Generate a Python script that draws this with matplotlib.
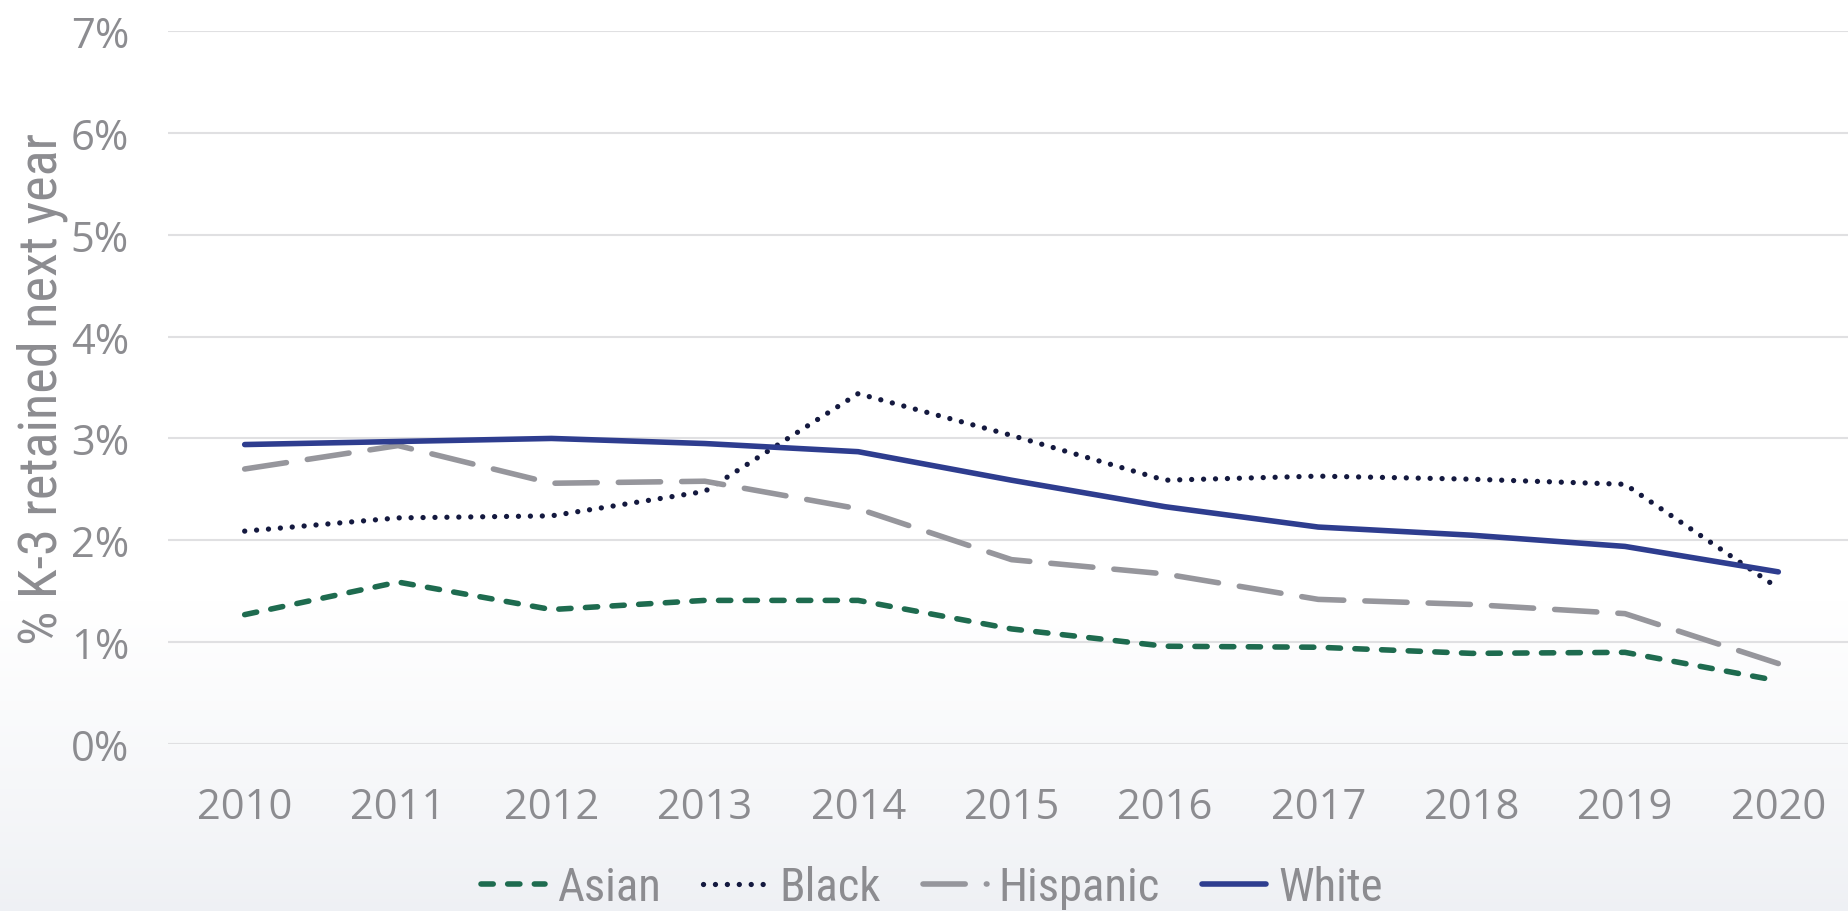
import matplotlib
matplotlib.use("Agg")
import matplotlib.pyplot as plt
import numpy as np
from matplotlib import font_manager
from matplotlib.colors import LinearSegmentedColormap

years = [2010, 2011, 2012, 2013, 2014, 2015, 2016, 2017, 2018, 2019, 2020]
asian = [1.27, 1.59, 1.32, 1.41, 1.41, 1.13, 0.96, 0.95, 0.89, 0.90, 0.62]
black = [2.09, 2.22, 2.24, 2.48, 3.44, 3.03, 2.59, 2.63, 2.60, 2.55, 1.53]
hispanic = [2.70, 2.93, 2.56, 2.58, 2.31, 1.81, 1.67, 1.42, 1.37, 1.28, 0.79]
white = [2.94, 2.97, 3.00, 2.95, 2.87, 2.59, 2.33, 2.13, 2.05, 1.94, 1.69]
yticks = [0, 1, 2, 3, 4, 5, 6, 7]

grey_txt = '#8c8c90'

# pick a narrow font for the axis title and legend if one is installed
installed = {f.name for f in font_manager.fontManager.ttflist}
narrow = 'Roboto'
for name in ['Liberation Sans Narrow', 'Roboto Condensed', 'Open Sans Condensed',
             'DejaVu Sans Condensed', 'Roboto']:
    if name in installed:
        narrow = name
        break

fig = plt.figure(figsize=(18.49, 9.12), dpi=100)

# background gradient: white on top, light grey towards the bottom
bg = fig.add_axes([0, 0, 1, 1], zorder=-10)
t = np.linspace(0, 1, 300)
grad = np.clip(t / 0.34, 0, 1)[:, None] ** 0.8
cmap = LinearSegmentedColormap.from_list('bg', ['#eef0f4', '#ffffff'])
bg.imshow(grad, aspect='auto', cmap=cmap, origin='lower', extent=[0, 1, 0, 1])
bg.axis('off')

ax = fig.add_axes([168 / 1849, 0.1831, (1855 - 168) / 1849, 0.7818])
ax.patch.set_alpha(0)

ax.plot(years, asian, color='#1e6b4f', lw=4, ls=(0, (2.2, 2.6)),
        dash_capstyle='round', label='Asian', zorder=3)
ax.plot(years, black, color='#14193f', lw=3.8, ls=(0, (0.01, 2.25)),
        dash_capstyle='round', label='Black', zorder=3)
ax.plot(years, hispanic, color='#96969c', lw=4, ls=(0, (7.6, 3.8)),
        dash_capstyle='round', label='Hispanic', zorder=3)
ax.plot(years, white, color='#2e3d8f', lw=4, solid_capstyle='round',
        label='White', zorder=4)

ax.set_xlim(2009.5, 2020.5)
ax.set_ylim(0, 7)
ax.set_yticks(yticks)
ax.set_yticklabels([f'{v}%' for v in yticks])
ax.set_xticks(years)
ax.grid(axis='y', color='#e0e0e2', lw=1.5)
ax.set_axisbelow(True)
for s in ax.spines.values():
    s.set_visible(False)
ax.tick_params(axis='both', length=0, labelsize=30, colors=grey_txt)
for lab in ax.get_xticklabels() + ax.get_yticklabels():
    lab.set_family(['Open Sans', 'DejaVu Sans'])
ax.tick_params(axis='y', pad=28)
ax.tick_params(axis='x', pad=30)

ylab = ax.set_ylabel('% K-3 retained next year', fontsize=30, color=grey_txt,
                     family=narrow)
# scale the title so it spans about the same length as in the source
fig.canvas.draw()
r = fig.canvas.get_renderer()
h = ylab.get_window_extent(r).height
size = 30 * 512 / h
ylab.set_fontsize(size)
ax.yaxis.set_label_coords(-126 / 1687, 0.5)
ylab.set_verticalalignment('center')

leg_size = size * 0.86
em = leg_size * 100 / 72
leg = fig.legend(loc='center', bbox_to_anchor=(0.504, 0.026), ncol=4,
                 frameon=False, handlelength=64 / em, handletextpad=12 / em,
                 columnspacing=42 / em,
                 prop={'family': narrow, 'size': leg_size})
for txt in leg.get_texts():
    txt.set_color(grey_txt)

fig.savefig('out.png', dpi=100)
